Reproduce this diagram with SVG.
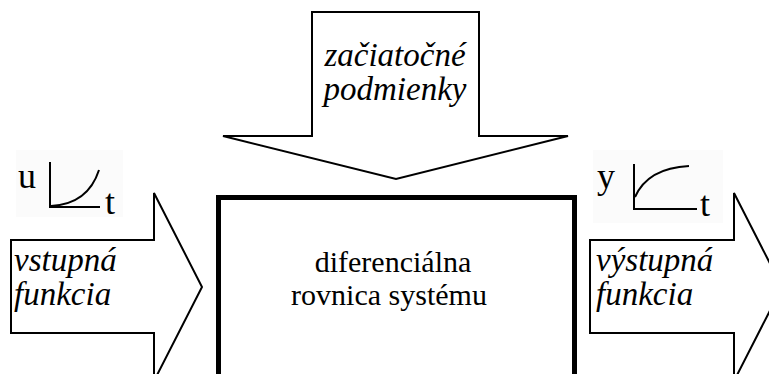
<svg xmlns="http://www.w3.org/2000/svg" width="769" height="374" viewBox="0 0 769 374">
<style>
.arrow{fill:#fff;stroke:#000;stroke-width:2;stroke-linejoin:miter}
text{font-family:'Liberation Serif','DejaVu Serif',serif;fill:#000}
.it{font-style:italic;font-size:33px}
.rm{font-size:30px}
.sym{font-size:36px}
.ax{fill:none;stroke:#000;stroke-width:2}
.bg{fill:#fbfbfb}
</style>
<rect width="769" height="374" fill="#fff"/>
<g id="connectors">
  <g id="input-arrow">
    <polygon class="arrow" points="11,240 154,240 154,193 202,287 154,381 154,333 11,333"/>
    <text class="it" x="14" y="271">vstupná</text>
    <text class="it" x="14" y="305">funkcia</text>
  </g>
  <g id="initial-arrow">
    <polygon class="arrow" points="312,12 479,12 479,136 568,136 396,179 223,136 312,136"/>
    <text class="it" x="395" y="66" text-anchor="middle">začiatočné</text>
    <text class="it" x="395" y="100" text-anchor="middle">podmienky</text>
  </g>
  <g id="output-arrow">
    <polygon class="arrow" points="590,240 734,240 734,193 782,287 734,381 734,333 590,333"/>
    <text class="it" x="596" y="271">výstupná</text>
    <text class="it" x="596" y="305">funkcia</text>
  </g>
</g>
<g id="system">
  <rect x="218.5" y="197.5" width="356" height="190" fill="#fff" stroke="#000" stroke-width="5"/>
  <text class="rm" x="393" y="272" text-anchor="middle">diferenciálna</text>
  <text class="rm" x="389" y="305" text-anchor="middle">rovnica systému</text>
</g>
<g id="input-graph">
  <rect class="bg" x="16" y="150" width="107" height="67"/>
  <text class="sym" x="18" y="188">u</text>
  <path class="ax" d="M50,162 V207 H100"/>
  <path class="ax" d="M51,206 Q88,204 99,170"/>
  <text class="sym" x="105" y="214">t</text>
</g>
<g id="output-graph">
  <rect class="bg" x="593" y="150" width="130" height="73"/>
  <text class="sym" x="597" y="188">y</text>
  <path class="ax" d="M634,164 V209 H697"/>
  <path class="ax" d="M635,197 Q648,168 689,166"/>
  <text class="sym" x="700" y="216">t</text>
</g>
</svg>
